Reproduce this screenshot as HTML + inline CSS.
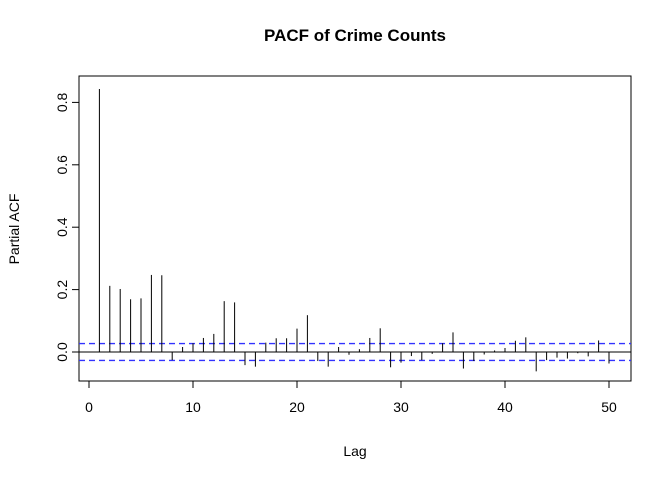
<!DOCTYPE html>
<html><head><meta charset="utf-8"><style>
html,body{margin:0;padding:0;background:#fff;}
svg{display:block;font-family:"Liberation Sans",Arial,sans-serif;}
</style></head><body>
<svg id="chart" width="672" height="480" viewBox="0 0 672 480">
<text x="355" y="41" text-anchor="middle" font-size="17" font-weight="bold">PACF of Crime Counts</text>
<rect x="79" y="76" width="552" height="305" fill="none" stroke="#000"/>
<g id="xaxis"></g>
<g id="yaxis"></g>
<text x="355" y="456" text-anchor="middle" font-size="14">Lag</text>
<text transform="translate(19,229) rotate(-90)" text-anchor="middle" font-size="14">Partial ACF</text>
<g id="marks"></g>
</svg>
<script>
const lags = [1,2,3,4,5,6,7,8,9,10,11,12,13,14,15,16,17,18,19,20,21,22,23,24,25,26,27,28,29,30,31,32,33,34,35,36,37,38,39,40,41,42,43,44,45,46,47,48,49,50];
const pacf = [0.843,0.212,0.202,0.169,0.172,0.247,0.246,-0.026,0.016,0.028,0.045,0.058,0.163,0.159,-0.042,-0.047,0.030,0.044,0.044,0.075,0.118,-0.029,-0.047,0.016,-0.009,0.009,0.045,0.076,-0.049,-0.034,-0.013,-0.026,-0.006,0.028,0.063,-0.053,-0.029,-0.008,0.005,0.013,0.036,0.047,-0.062,-0.026,-0.018,-0.021,-0.004,-0.014,0.037,-0.037];
const xTicks = [0,10,20,30,40,50];
const yTicks = [0,0.2,0.4,0.6,0.8];
const yTickLabels = ["0.0","0.2","0.4","0.6","0.8"];
const ci = 0.027;
const NS="http://www.w3.org/2000/svg";
const xs = v => 89 + v*10.4;
const ys = v => 352 - v*312;
function mk(tag, attrs, parent){const e=document.createElementNS(NS,tag);for(const k in attrs)e.setAttribute(k,attrs[k]);parent.appendChild(e);return e;}
const xa=document.getElementById('xaxis'), ya=document.getElementById('yaxis'), mg=document.getElementById('marks');
mk('line',{x1:xs(0),x2:xs(50),y1:381,y2:381,stroke:'#000'},xa);
xTicks.forEach(t=>{
  const l=mk('line',{x1:xs(t),x2:xs(t),y1:381,y2:388,stroke:'#000'},xa);
  
  
  const tx=mk('text',{x:xs(t),y:412,'text-anchor':'middle','font-size':14},xa);
  tx.textContent=t;
  
  
});
mk('line',{x1:79,x2:79,y1:ys(0),y2:ys(0.8),stroke:'#000'},ya);
yTicks.forEach((t,i)=>{
  const l=mk('line',{x1:72,x2:79,y1:ys(t),y2:ys(t),stroke:'#000'},ya);
  
  
  const tx=mk('text',{x:0,y:0,'text-anchor':'middle','font-size':14,transform:`translate(67,${ys(t)}) rotate(-90)`},ya);
  tx.textContent=yTickLabels[i];
  
  
});
const zl=mk('line',{x1:79,x2:631,y1:ys(0),y2:ys(0),stroke:'#000'},mg);


[ci,-ci].forEach(c=>{
  const l=mk('line',{x1:79,x2:631,y1:ys(c),y2:ys(c),stroke:'#3333ff','stroke-dasharray':'6,4','stroke-width':1.3},mg);
  
  
});
lags.forEach((g,i)=>{
  const l=mk('line',{x1:xs(g),x2:xs(g),y1:ys(0),y2:ys(pacf[i]),stroke:'#000','stroke-width':1},mg);
  
  
});
</script>
</body></html>
